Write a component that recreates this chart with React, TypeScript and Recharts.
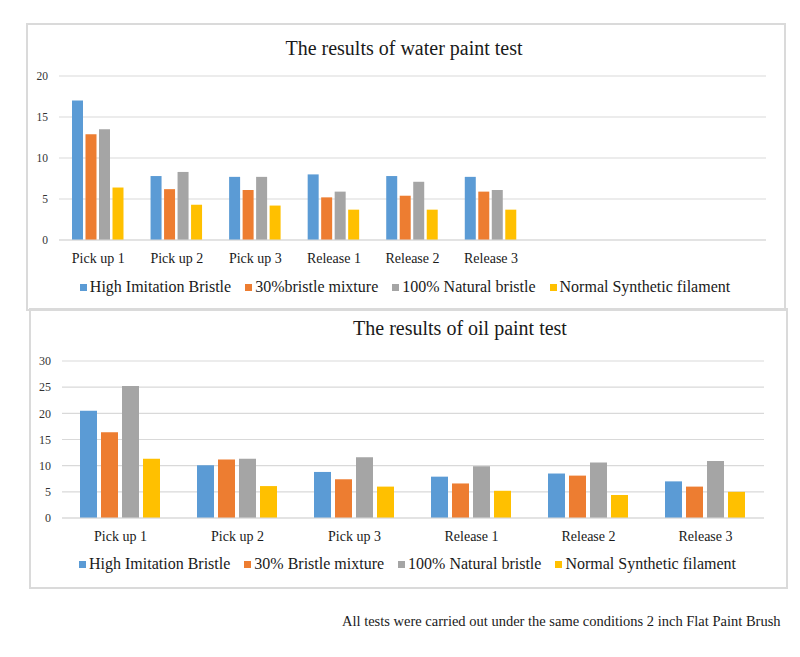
import React from 'react'
import { BarChart, Bar, XAxis, YAxis, CartesianGrid, Legend } from 'recharts'

// categories (water chart keeps 3 empty slots on the right, like the original)
const categories = ['Pick up 1', 'Pick up 2', 'Pick up 3', 'Release 1', 'Release 2', 'Release 3']
const waterBlankSlots = ['', ' ', '  ']

// water paint test
const waterHighImitation = [17.0, 7.8, 7.7, 8.0, 7.8, 7.7]
const waterMixture30 = [12.9, 6.2, 6.1, 5.2, 5.4, 5.9]
const waterNatural100 = [13.5, 8.3, 7.7, 5.9, 7.1, 6.1]
const waterSynthetic = [6.4, 4.3, 4.2, 3.7, 3.7, 3.7]

// oil paint test
const oilHighImitation = [20.5, 10.1, 8.8, 7.9, 8.5, 7.0]
const oilMixture30 = [16.4, 11.2, 7.4, 6.6, 8.1, 6.0]
const oilNatural100 = [25.2, 11.3, 11.6, 9.9, 10.6, 10.9]
const oilSynthetic = [11.3, 6.1, 6.0, 5.2, 4.4, 5.0]

const waterTicks = [0, 5, 10, 15, 20]
const oilTicks = [0, 5, 10, 15, 20, 25, 30]

const waterNames = ['High Imitation Bristle', '30%bristle mixture', '100% Natural bristle', 'Normal Synthetic filament']
const oilNames = ['High Imitation Bristle', '30% Bristle mixture', '100% Natural bristle', 'Normal Synthetic filament']

const COLORS = ['#5b9bd5', '#ed7d31', '#a5a5a5', '#ffc000']
const FONT = '"Liberation Serif", "Times New Roman", serif'
const GRID = '#d9d9d9'

const waterData = [
  ...categories.map((name, i) => ({
    name,
    a: waterHighImitation[i],
    b: waterMixture30[i],
    c: waterNatural100[i],
    d: waterSynthetic[i],
  })),
  ...waterBlankSlots.map(name => ({ name, a: null, b: null, c: null, d: null })),
]

const oilData = categories.map((name, i) => ({
  name,
  a: oilHighImitation[i],
  b: oilMixture30[i],
  c: oilNatural100[i],
  d: oilSynthetic[i],
}))

// legend keeps the series order (recharts would sort by name otherwise)
const makeLegend = (names: string[]) => {
  // eslint-disable-next-line @typescript-eslint/no-explicit-any
  return (props: any) => {
    const { payload = [] } = props
    // eslint-disable-next-line @typescript-eslint/no-explicit-any
    const ordered = names.map(n => payload.find((e: any) => e.value === n)).filter(Boolean)
    return (
      <div
        style={{
          display: 'flex',
          justifyContent: 'center',
          alignItems: 'center',
          gap: 14,
          height: 18,
          lineHeight: '18px',
          fontFamily: FONT,
          fontSize: 16,
          color: '#1a1a1a',
        }}
      >
        {/* eslint-disable-next-line @typescript-eslint/no-explicit-any */}
        {ordered.map((entry: any) => (
          <div key={entry.value} style={{ display: 'flex', alignItems: 'center' }}>
            <span style={{ width: 7, height: 7, background: entry.color, marginRight: 3, display: 'inline-block' }} />
            <span>{entry.value}</span>
          </div>
        ))}
      </div>
    )
  }
}

interface PanelProps {
  // eslint-disable-next-line @typescript-eslint/no-explicit-any
  data: any[]
  names: string[]
  ticks: number[]
  left: number
  top: number
  width: number
  height: number
  margin: { top: number; right: number; bottom: number; left: number }
  tickFont: number
  barCategoryGap: number
  barGap: number
  legendTop: number
}

function Panel(p: PanelProps) {
  return (
    <>
      <div
        style={{
          position: 'absolute',
          left: p.left - 1,
          top: p.top - 1,
          width: p.width,
          height: p.height,
          border: '2px solid #dadada',
        }}
      />
      <div style={{ position: 'absolute', left: p.left, top: p.top }}>
        <BarChart
          width={p.width}
          height={p.height}
          data={p.data}
          margin={p.margin}
          barCategoryGap={p.barCategoryGap}
          barGap={p.barGap}
        >
          <CartesianGrid vertical={false} stroke={GRID} strokeWidth={1.2} />
          <XAxis
            dataKey="name"
            height={30}
            tickLine={false}
            tickSize={0}
            tickMargin={13}
            axisLine={{ stroke: GRID, strokeWidth: 1.2 }}
            tick={{ fontSize: 14, fill: '#1a1a1a', fontFamily: FONT }}
            interval={0}
          />
          <YAxis
            width={32}
            domain={[p.ticks[0], p.ticks[p.ticks.length - 1]]}
            ticks={p.ticks}
            axisLine={false}
            tickLine={false}
            tickSize={0}
            tickMargin={11}
            tick={{ fontSize: p.tickFont, fill: '#333', fontFamily: FONT }}
          />
          <Legend
            layout="horizontal"
            verticalAlign="middle"
            content={makeLegend(p.names)}
            wrapperStyle={{ top: p.legendTop, left: 0, width: p.width }}
          />
          {['a', 'b', 'c', 'd'].map((k, i) => (
            <Bar
              key={k}
              dataKey={k}
              name={p.names[i]}
              fill={COLORS[i]}
              legendType="square"
              isAnimationActive={false}
            />
          ))}
        </BarChart>
      </div>
    </>
  )
}

export default function App() {
  const titleStyle: React.CSSProperties = {
    position: 'absolute',
    fontFamily: FONT,
    fontSize: 20,
    lineHeight: '20px',
    color: '#1a1a1a',
    whiteSpace: 'nowrap',
    transform: 'translateX(-50%)',
  }
  return (
    <div
      style={{
        position: 'absolute',
        left: 0,
        top: 0,
        width: 800,
        height: 657,
        background: '#fff',
        overflow: 'hidden',
      }}
    >
      <Panel
        data={waterData}
        names={waterNames}
        ticks={waterTicks}
        left={27}
        top={24}
        width={756}
        height={284}
        margin={{ top: 52, right: 17, bottom: 38, left: 0 }}
        tickFont={11.5}
        barCategoryGap={13}
        barGap={2.5}
        legendTop={254}
      />
      <div style={{ ...titleStyle, left: 404, top: 37.5 }}>The results of water paint test</div>

      <Panel
        data={oilData}
        names={oilNames}
        ticks={oilTicks}
        left={30}
        top={309}
        width={755}
        height={277}
        margin={{ top: 52, right: 21, bottom: 38, left: 0 }}
        tickFont={12}
        barCategoryGap={18}
        barGap={4}
        legendTop={246}
      />
      <div style={{ ...titleStyle, left: 460, top: 318 }}>The results of oil paint test</div>

      <div
        style={{
          position: 'absolute',
          left: 342,
          top: 613.5,
          fontFamily: FONT,
          fontSize: 14.5,
          lineHeight: '14.5px',
          color: '#1a1a1a',
          whiteSpace: 'nowrap',
        }}
      >
        All tests were carried out under the same conditions 2 inch Flat Paint Brush
      </div>
    </div>
  )
}
